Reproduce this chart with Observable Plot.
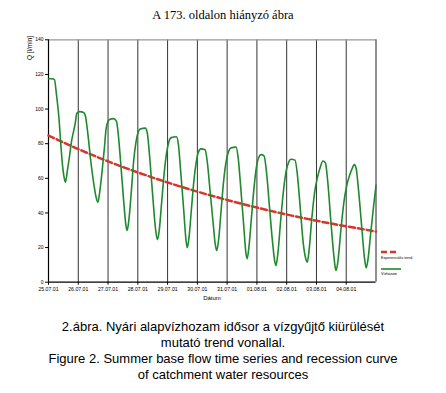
<!DOCTYPE html>
<html><head><meta charset="utf-8">
<script src="https://cdn.jsdelivr.net/npm/d3@7"></script>
<script src="https://cdn.jsdelivr.net/npm/@observablehq/plot@0.6"></script>
<style>
body{margin:0;background:#fff;}
#wrap{position:relative;width:446px;height:393px;overflow:hidden;font-family:"Liberation Sans",Arial,sans-serif;color:#000;}
#title{position:absolute;top:8px;left:0;width:446px;text-align:center;font-family:"Liberation Serif","Times New Roman",serif;font-size:12.5px;line-height:15px;}
#chart{position:absolute;top:30px;left:0;}
#ylab{position:absolute;left:29px;top:48px;transform:translate(-50%,-50%) rotate(-90deg);font-size:6.5px;white-space:nowrap;}
#xlab{position:absolute;left:212px;top:298px;transform:translate(-50%,-50%);font-size:6px;white-space:nowrap;}
.legtxt{position:absolute;left:381px;font-size:3.6px;white-space:nowrap;transform:translateY(-50%);}
#legsvg{position:absolute;left:0;top:0;}
#caption{position:absolute;top:319px;left:0;width:446px;text-align:center;font-size:13px;line-height:16px;}
</style></head>
<body>
<div id="wrap">
  <div id="title">A 173. oldalon hiányzó ábra</div>
  <div id="chart"></div>
  <div id="ylab">Q [l/min]</div>
  <div id="xlab">Dátum</div>
  <svg id="legsvg" width="446" height="393">
    <line x1="381" x2="397" y1="252" y2="252" stroke="#d8342b" stroke-width="2.5" stroke-dasharray="6,3"/>
    <line x1="381" x2="401" y1="269" y2="269" stroke="#1e8a2e" stroke-width="1.6"/>
  </svg>
  <div class="legtxt" style="top:258px">Exponenciális trend</div>
  <div class="legtxt" style="top:274px">Vízhozam</div>
  <div id="caption">2.ábra. Nyári alapvízhozam idősor a vízgyűjtő kiürülését<br>mutató trend vonallal.<br>Figure 2. Summer base flow time series and recession curve<br>of catchment water resources</div>
</div>
<script>
// Days since 25.07.2001 00:00
const flowDays = [
 0.00,0.12,0.20,0.27,0.35,0.42,0.48,0.53,0.57,
 0.63,0.70,0.78,0.84,0.90,0.95,1.05,1.18,1.24,1.32,1.42,1.52,1.60,1.66,
 1.72,1.80,1.88,1.93,1.98,2.05,2.18,2.28,2.34,2.42,2.52,2.60,2.64,
 2.70,2.78,2.86,2.94,3.00,3.08,3.25,3.32,3.40,3.50,3.60,3.66,
 3.72,3.80,3.88,3.96,4.04,4.12,4.30,4.36,4.44,4.54,4.62,4.66,
 4.72,4.80,4.88,4.96,5.03,5.12,5.26,5.33,5.42,5.52,5.60,5.65,
 5.71,5.80,5.88,5.96,6.04,6.12,6.30,6.37,6.46,6.56,6.63,6.67,
 6.73,6.82,6.90,6.98,7.06,7.14,7.24,7.32,7.42,7.52,7.60,7.64,
 7.70,7.80,7.90,7.98,8.06,8.14,8.28,8.36,8.46,8.56,8.65,8.69,
 8.75,8.84,8.94,9.04,9.12,9.22,9.30,9.38,9.48,9.58,9.63,9.66,
 9.72,9.82,9.92,10.02,10.12,10.22,10.27,10.33,10.42,10.52,10.62,10.67,
 10.73,10.82,10.92,11.00
];
const flowValues = [
 117.5,117.5,117,108,95,78,66,60,57.8,
 64,72,82,87,92,97.5,98.5,98,96,86,70,57,49,46.2,
 52,64,78,88,92,94,94.5,93,86,70,48,33,29.9,
 36,52,70,81,86,88.5,89,86,72,50,30,24.5,
 30,46,62,74,81,83.5,84,80,64,42,24,19.9,
 26,42,58,69,75,77,76.5,70,54,36,22,18.3,
 24,42,58,69,75,77.5,78,72,54,32,17,13.5,
 20,38,54,66,72,73.7,73,64,44,24,12,9.6,
 16,36,54,64,69,71,70.5,62,42,22,13,11.5,
 18,36,52,61,66,70,69,58,36,16,8.5,6.8,
 12,30,46,56,62,66.5,68,66,52,32,13,8.3,
 13,28,44,56
];
const trendDays = [0,1,2,3,4,5,6,7,8,9,10,11];
const trendValues = [84.7,76.9,69.8,63.4,57.6,52.3,47.5,43.1,39.1,35.5,32.3,29.3];
const tickDays = [0,1,2,3,4,5,6,7,8,9,10];
const gridDays = [1,2,3,4,5,6,7,8,9,10];
const yTicks = [0,20,40,60,80,100,120,140];

const start = Date.UTC(2001,6,25);
const toDate = d => new Date(start + d*864e5);
const flow = flowDays.map((d,i)=>({date:toDate(d), q:flowValues[i]}));
const trend = trendDays.map((d,i)=>({date:toDate(d), q:trendValues[i]}));

const chart = Plot.plot({
  width:446, height:280,
  marginTop:9.3, marginBottom:28.3, marginLeft:48, marginRight:70.5,
  style:{fontFamily:"Liberation Sans, Arial, sans-serif", fontSize:"5px", background:"transparent", overflow:"visible", color:"#000"},
  x:{type:"utc", domain:[toDate(0), toDate(11)]},
  y:{domain:[0,140]},
  marks:[
    Plot.ruleX(gridDays, {x:d=>toDate(d), y1:0, y2:140, stroke:"#333", strokeWidth:1}),
    Plot.ruleY([140], {stroke:"#999", strokeWidth:1.2}),
    Plot.ruleX([toDate(11)], {y1:0, y2:140, stroke:"#222"}),
    Plot.axisX(tickDays.map(toDate), {tickFormat:d3.utcFormat("%d.%m.%y"), tickSize:3, tickPadding:2, label:null, fontSize:5.2, stroke:"#000"}),
    Plot.axisY(yTicks, {tickSize:3, tickPadding:2, label:null, fontSize:5, stroke:"#000"}),
    Plot.ruleY([0], {stroke:"#000", strokeWidth:1.2}),
    Plot.ruleX([toDate(0)], {y1:0, y2:140, stroke:"#000", strokeWidth:1.2}),
    Plot.line(trend, {x:"date", y:"q", stroke:"#d8342b", strokeWidth:2.5, strokeDasharray:"6,3", curve:"monotone-x"}),
    Plot.line(flow, {x:"date", y:"q", stroke:"#1e8a2e", strokeWidth:1.6, curve:"monotone-x"})
  ]
});
document.getElementById("chart").appendChild(chart);
</script>
</body></html>
